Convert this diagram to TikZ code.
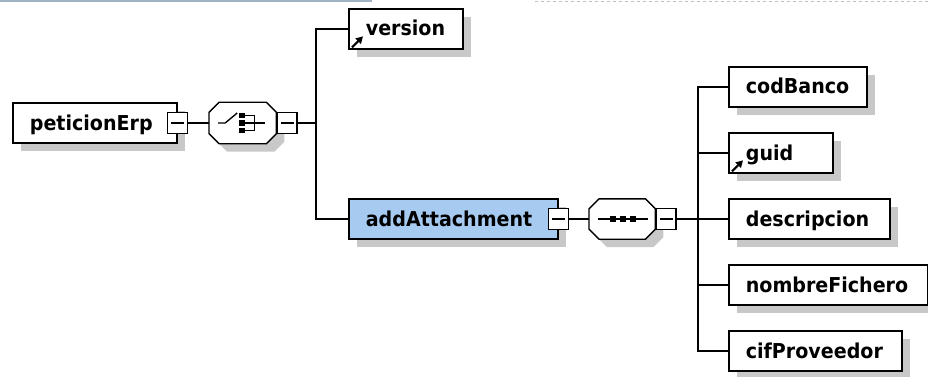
\documentclass[tikz,border=0pt]{standalone}
\usepackage{fontspec}
\setmainfont{DejaVu Sans}[FakeStretch=0.93]
\usetikzlibrary{shadows,arrows.meta}
\definecolor{shadowgrey}{RGB}{200,200,200}
\definecolor{elemblue}{RGB}{166,202,240}
\definecolor{topbar}{RGB}{160,178,196}
\hyphenpenalty=10000
\exhyphenpenalty=10000
\newcommand{\collapse}{\rule{13pt}{1.4pt}}
% octagon round a compositor node
\newcommand{\octagon}[1]{%
    \draw [line width=1.4pt, fill=white,
        drop shadow={shadow xshift=8pt, shadow yshift=-8pt, fill=shadowgrey, opacity=1}]
        ([xshift=10pt]#1.north west) -- ([xshift=-10pt]#1.north east)
        -- ([yshift=-10pt]#1.north east) -- ([yshift=10pt]#1.south east)
        -- ([xshift=-10pt]#1.south east) -- ([xshift=10pt]#1.south west)
        -- ([yshift=10pt]#1.south west) -- ([yshift=-10pt]#1.north west) -- cycle;}

\tikzset{
    elem/.style={draw, line width=1.7pt, fill=white, anchor=west,
        minimum height=40pt, inner xsep=17pt, inner ysep=0pt,
        text height=16pt, text depth=2pt, align=left,
        font=\fontsize{20.5}{24}\selectfont\bfseries,
        drop shadow={shadow xshift=8pt, shadow yshift=-8pt, fill=shadowgrey, opacity=1}},
    minus/.style={draw, line width=1.4pt, fill=white, inner sep=0pt,
        minimum width=20pt, minimum height=21pt},
    compositor/.style={inner sep=0pt, minimum width=67pt, minimum height=41pt, anchor=west},
    link/.style={line width=1.6pt},
    ref/.style={line width=2.2pt, -{Triangle[length=7pt,width=7.5pt]}}
}

\begin{document}
\begin{tikzpicture}[x=1pt, y=-1pt]
    \useasboundingbox (0,0) rectangle (928,377);
    % edge of the screenshot
    \draw [topbar, line width=2pt] (0,1) -- (372,1);
    \draw [black!25, dashed, line width=0.8pt] (535,1.5) -- (928,1.5);

    % root and its choice
    \node [elem, text width=130pt] (peticionErp) at (12,123) {peticionErp};
    \node [minus] (peticionErpMinus) at (peticionErp.east) {\collapse};
    \node [compositor] (choice) at (209,123) {};
    \octagon{choice}
    \node [minus, anchor=west] (choiceMinus) at (choice.east) {\collapse};
    \begin{scope}[shift={(choice.center)}, line width=1.4pt]
        \draw (-24.5,0) -- (-17.5,0) -- (-5.5,-10);
        \foreach \y in {-7.5,0,7.5}
            \fill (-3.5,\y-2.75) rectangle (2,\y+2.75);
        \draw (2,-7.5) -- (11.5,-7.5) -- (11.5,7.5) -- (2,7.5);
        \draw (2,0) -- (22.5,0);
    \end{scope}

    \node [elem, text width=80pt] (version) at (348,29) {version};
    \draw [ref] ([shift={(4,-2.5)}]version.south west) -- ++(11,-11);
    \node [elem, fill=elemblue, text width=175pt] (addAttachment) at (348,219) {addAttachment};
    \node [minus] (addAttachmentMinus) at (addAttachment.east) {\collapse};

    % sequence of addAttachment
    \node [compositor, minimum width=66pt, minimum height=40pt] (sequence) at (589,219) {};
    \octagon{sequence}
    \node [minus, anchor=west] (sequenceMinus) at (sequence.east) {\collapse};
    \begin{scope}[shift={(sequence.center)}, line width=1.4pt]
        \draw (-24,0) -- (26,0);
        \foreach \x in {-9.5,0.5,10.5}
            \fill (\x-3,-2.75) rectangle (\x+3,2.75);
    \end{scope}

    \node [elem, text width=104pt] (codBanco) at (728,87) {codBanco};
    \node [elem, text width=70pt] (guid) at (728,153) {guid};
    \draw [ref] ([shift={(4,-2.5)}]guid.south west) -- ++(11,-11);
    \node [elem, text width=127pt] (descripcion) at (728,219) {descripcion};
    \node [elem, text width=165pt] (nombreFichero) at (728,285) {nombreFichero};
    \node [elem, text width=139pt] (cifProveedor) at (728,351) {cifProveedor};

    % connectors
    \coordinate (fork1) at (316,123);
    \coordinate (fork2) at (698,219);
    \draw [link] (peticionErpMinus) -- (choice);
    \draw [link] (choiceMinus) -- (fork1);
    \draw [link] (version.west) -| (fork1) |- (addAttachment.west);
    \draw [link] (addAttachmentMinus) -- (sequence);
    \draw [link] (sequenceMinus) -- (fork2);
    \foreach \c in {codBanco,guid,descripcion,nombreFichero,cifProveedor}
        \draw [link] (fork2) |- (\c.west);
\end{tikzpicture}
\end{document}
